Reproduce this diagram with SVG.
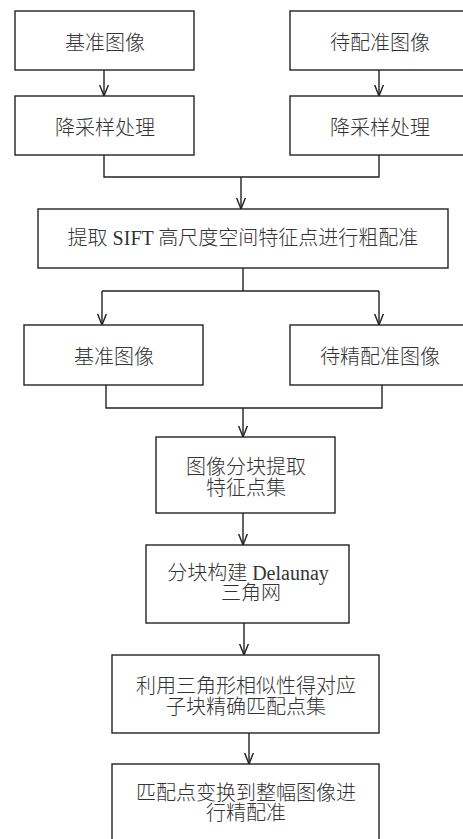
<svg xmlns="http://www.w3.org/2000/svg" width="463" height="839" viewBox="0 0 463 839">
<defs>
<style>
.box{fill:#fff;stroke:#222;stroke-width:1.4}
.t{font-family:'Liberation Serif','Noto Sans CJK SC',serif;font-size:20px;font-weight:300;fill:#333;text-anchor:middle}
.c{fill:none;stroke:#222;stroke-width:1.4}
</style>
<marker id="ah" viewBox="0 0 12 10" refX="11.5" refY="5" markerWidth="12" markerHeight="10" markerUnits="userSpaceOnUse" orient="auto">
<path d="M0,0.5 L11.5,5 L0,9.5" fill="none" stroke="#222" stroke-width="1.4"/>
</marker>
</defs>
<rect width="463" height="839" fill="#fff"/>
<g id="connectors">
<path class="c" d="M104,70 V96" marker-end="url(#ah)"/>
<path class="c" d="M379,70 V96" marker-end="url(#ah)"/>
<path class="c" d="M104,155 V177 H379 V155"/>
<path class="c" d="M241,177 V209" marker-end="url(#ah)"/>
<path class="c" d="M243,268 V291"/>
<path class="c" d="M102,291 H379"/>
<path class="c" d="M102,291 V325" marker-end="url(#ah)"/>
<path class="c" d="M379,291 V325" marker-end="url(#ah)"/>
<path class="c" d="M106,385 V408 H382 V385"/>
<path class="c" d="M243,408 V437" marker-end="url(#ah)"/>
<path class="c" d="M243,513 V545" marker-end="url(#ah)"/>
<path class="c" d="M244,623 V655" marker-end="url(#ah)"/>
<path class="c" d="M249,733 V764" marker-end="url(#ah)"/>
</g>
<g id="n1"><rect class="box" x="15" y="11" width="179" height="59"/><text class="t" x="105" y="50">基准图像</text></g>
<g id="n2"><rect class="box" x="290" y="11" width="180" height="59"/><text class="t" x="380" y="50">待配准图像</text></g>
<g id="n3"><rect class="box" x="15" y="96" width="179" height="59"/><text class="t" x="105" y="135">降采样处理</text></g>
<g id="n4"><rect class="box" x="290" y="96" width="180" height="59"/><text class="t" x="380" y="135">降采样处理</text></g>
<g id="n5"><rect class="box" x="38" y="209" width="410" height="59"/><text class="t" x="243" y="245">提取 SIFT 高尺度空间特征点进行粗配准</text></g>
<g id="n6"><rect class="box" x="24" y="325" width="179" height="60"/><text class="t" x="114" y="364">基准图像</text></g>
<g id="n7"><rect class="box" x="290" y="325" width="180" height="60"/><text class="t" x="380" y="364">待精配准图像</text></g>
<g id="n8"><rect class="box" x="156" y="437" width="179" height="76"/><text class="t" x="246" y="474">图像分块提取</text><text class="t" x="246" y="495">特征点集</text></g>
<g id="n9"><rect class="box" x="146" y="545" width="203" height="78"/><text class="t" x="248" y="580">分块构建 Delaunay</text><text class="t" x="251" y="600">三角网</text></g>
<g id="n10"><rect class="box" x="112" y="655" width="267" height="78"/><text class="t" x="246" y="693">利用三角形相似性得对应</text><text class="t" x="246" y="714">子块精确匹配点集</text></g>
<g id="n11"><rect class="box" x="112" y="764" width="267" height="80"/><text class="t" x="246" y="800">匹配点变换到整幅图像进</text><text class="t" x="246" y="820">行精配准</text></g>
</svg>
